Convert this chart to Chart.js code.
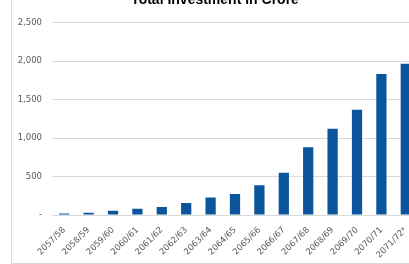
<!DOCTYPE html>
<html>
<head>
<meta charset="utf-8">
<script src="https://cdn.jsdelivr.net/npm/chart.js@4.4.1/dist/chart.umd.min.js"></script>
<style>
  html, body { margin: 0; padding: 0; background: #fff; overflow: hidden; width: 409px; height: 264px; }
  #frame { position: absolute; left: 11px; top: -20px; width: 420px; height: 282px; border: 1px solid #d9d9d9; background: #fff; }
  #wrap { position: absolute; left: 0; top: 11px; width: 406px; height: 271px; }
</style>
</head>
<body>
<div id="frame"><div id="wrap"><canvas id="investChart"></canvas></div></div>
<script>
// fiscal years (Nepali calendar)
const years = ['2057/58', '2058/59', '2059/60', '2060/61', '2061/62', '2062/63', '2063/64', '2064/65',
               '2065/66', '2066/67', '2067/68', '2068/69', '2069/70', '2070/71', '2071/72*'];
// total investment, crore
const investment = [18, 28, 55, 80, 105, 155, 228, 272, 388, 550, 882, 1122, 1368, 1835, 1968];
const yTickLabels = ['-', '500', '1,000', '1,500', '2,000', '2,500'];

const ctx = document.getElementById('investChart').getContext('2d');
new Chart(ctx, {
    type: 'bar',
    data: {
        labels: years,
        datasets: [{
            label: 'Total Investment in Crore',
            data: investment,
            backgroundColor: '#0a559c',
            barPercentage: 0.42,
            categoryPercentage: 1
        }]
    },
    options: {
        responsive: true,
        maintainAspectRatio: false,
        animation: false,
        plugins: {
            legend: { display: false },
            tooltip: { enabled: false },
            title: {
                display: true,
                text: 'Total Investment in Crore',
                color: '#000',
                font: { family: 'Liberation Sans', size: 14, weight: 'bold' },
                padding: { top: 0, bottom: 14 }
            }
        },
        scales: {
            x: {
                grid: { display: false },
                border: { display: false },
                ticks: {
                    color: '#595959',
                    font: { family: 'DejaVu Sans', size: 8.5 },
                    minRotation: 45,
                    maxRotation: 45,
                    autoSkip: false,
                    padding: 2
                },
                afterFit: scale => { scale.height = 48; }
            },
            y: {
                min: 0,
                max: 2500,
                grid: { color: '#d9d9d9', drawTicks: false, lineWidth: 1 },
                border: { display: false },
                ticks: {
                    stepSize: 500,
                    color: '#595959',
                    font: { family: 'DejaVu Sans', size: 8.5 },
                    padding: 10,
                    callback: (v, i) => yTickLabels[i]
                },
                afterFit: scale => { scale.width = 40; }
            }
        }
    }
});
</script>
</body>
</html>
